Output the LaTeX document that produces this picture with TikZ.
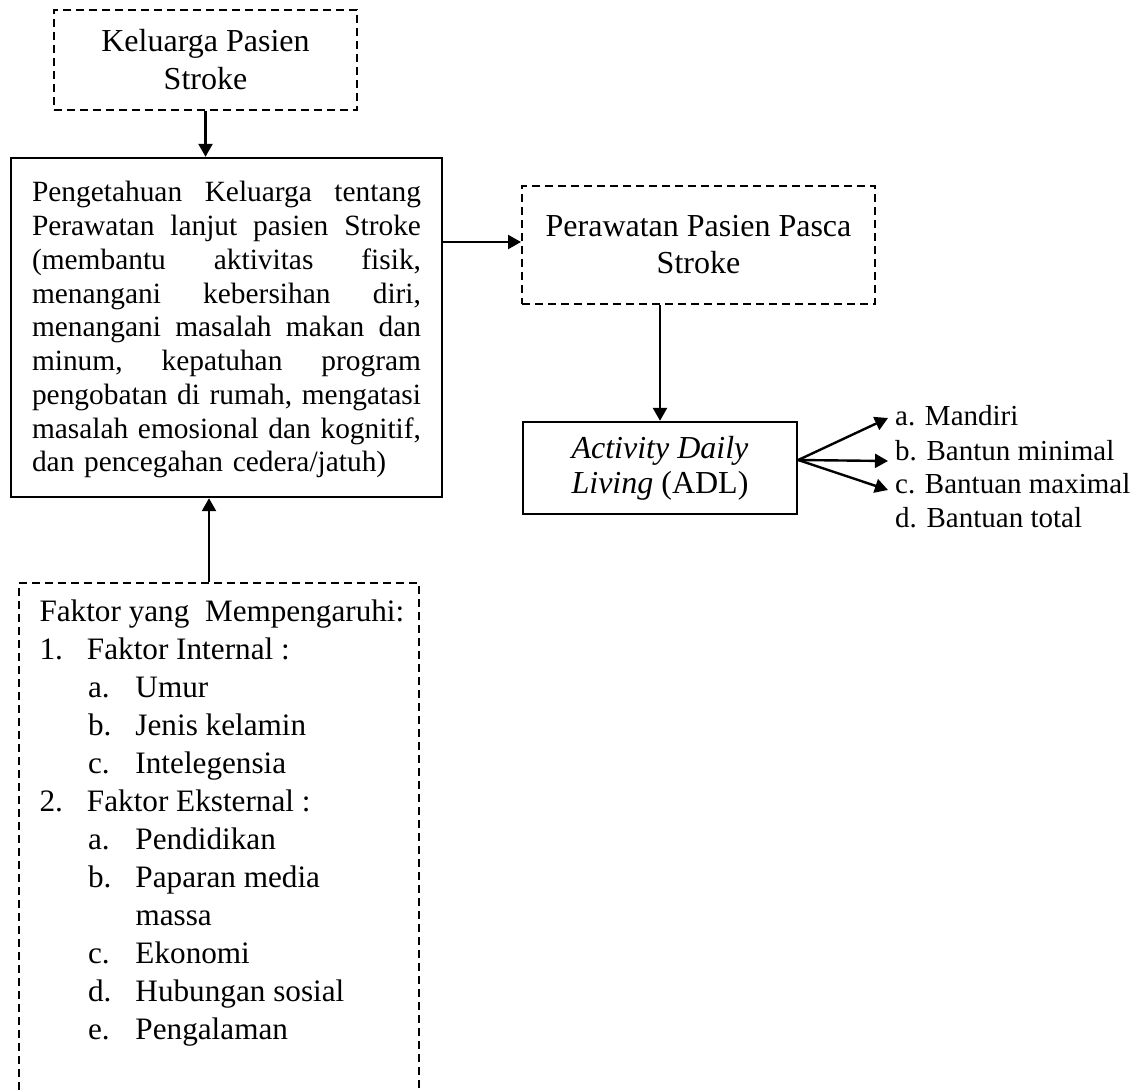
\documentclass[tikz,border=0pt]{standalone}
\usepackage{fontspec}
\setmainfont{Liberation Serif}
\usetikzlibrary{arrows.meta,calc}
\newcommand{\jl}[1]{\makebox[389pt][s]{#1}}
\begin{document}
\begin{tikzpicture}[x=1pt,y=-1pt,
  every node/.style={font=\fontsize{32}{38}\selectfont},
  dbox/.style={draw, line width=2pt, dash pattern=on 8pt off 5pt, rectangle, inner sep=0pt, align=center},
  sbox/.style={draw, line width=2.4pt, rectangle, inner sep=0pt},
  conn/.style={line width=2.4pt, -{Triangle[length=13pt,width=14pt]}},
  lbl/.style={anchor=base west, inner sep=0pt, font=\fontsize{29}{33}\selectfont},
]
\useasboundingbox (0,0) rectangle (1146,1090);
\clip (0,0) rectangle (1146,1090);

\node[dbox, minimum width=303pt, minimum height=100pt] (fam) at (205.5,60) {Keluarga Pasien\\Stroke};

\node[sbox, minimum width=431pt, minimum height=339pt, text width=389pt, align=left,
      font=\fontsize{29.4}{33.75}\selectfont] (know) at (226.5,327.5)
 {\jl{\rule{0pt}{25pt}Pengetahuan\hfill Keluarga\hfill tentang}\\
  \jl{Perawatan\hfill lanjut\hfill pasien\hfill Stroke}\\
  \jl{(membantu\hfill aktivitas\hfill fisik,}\\
  \jl{menangani\hfill kebersihan\hfill diri,}\\
  \jl{menangani\hfill masalah\hfill makan\hfill dan}\\
  \jl{minum,\hfill kepatuhan\hfill program}\\
  \jl{pengobatan\hfill di\hfill rumah,\hfill mengatasi}\\
  \jl{masalah\hfill emosional\hfill dan\hfill kognitif,}\\
  dan pencegahan cedera/jatuh)};

\node[dbox, minimum width=353pt, minimum height=118pt, font=\fontsize{32}{37}\selectfont] (post) at (698.5,245) {Perawatan Pasien Pasca\\Stroke};

\node[sbox, minimum width=274pt, minimum height=92pt, align=center, font=\fontsize{32}{35}\selectfont] (adl) at (660,468) {\textit{Activity Daily}\\\textit{Living} (ADL)};

\node[dbox, minimum width=400pt, minimum height=560pt, anchor=north] (fac) at (219,582) {};
\node[anchor=north west, inner sep=0pt, align=left, font=\fontsize{31.2}{38}\selectfont] (factxt) at (39.3,599.5)
 {Faktor yang\ \ Mempengaruhi:\\
  \makebox[47.5pt][l]{1.}Faktor Internal :\\
  \hspace*{48.5pt}\makebox[47.5pt][l]{a.}Umur\\
  \hspace*{48.5pt}\makebox[47.5pt][l]{b.}Jenis kelamin\\
  \hspace*{48.5pt}\makebox[47.5pt][l]{c.}Intelegensia\\
  \makebox[47.5pt][l]{2.}Faktor Eksternal :\\
  \hspace*{48.5pt}\makebox[47.5pt][l]{a.}Pendidikan\\
  \hspace*{48.5pt}\makebox[47.5pt][l]{b.}Paparan media\\
  \hspace*{96pt}massa\\
  \hspace*{48.5pt}\makebox[47.5pt][l]{c.}Ekonomi\\
  \hspace*{48.5pt}\makebox[47.5pt][l]{d.}Hubungan sosial\\
  \hspace*{48.5pt}\makebox[47.5pt][l]{e.}Pengalaman};

\node[lbl] (la) at (895,425) {a. Mandiri};
\node[lbl] (lb) at (895,460) {b. Bantun minimal};
\node[lbl] (lc) at (895,493) {c. Bantuan maximal};
\node[lbl] (ld) at (895,527) {d. Bantuan total};

\draw[conn] (fam.south) -- (fam.south |- know.north);
\draw[conn] ([yshift=3pt]post.west -| know.east) -- ([yshift=3pt]post.west);
\draw[conn] (adl.north |- post.south) -- (adl.north);
\draw[conn] ([xshift=-10pt]fac.north) -- ([xshift=-10pt]fac.north |- know.south);
\coordinate (fan) at ([yshift=8pt]adl.east);
\draw[conn] (fan) -- ([shift={(-7pt,7pt)}]la.base west);
\draw[conn] (fan) -- ([shift={(-7pt,-1pt)}]lb.base west);
\draw[conn] (fan) -- ([shift={(-7pt,3pt)}]lc.base west);
\end{tikzpicture}
\end{document}
